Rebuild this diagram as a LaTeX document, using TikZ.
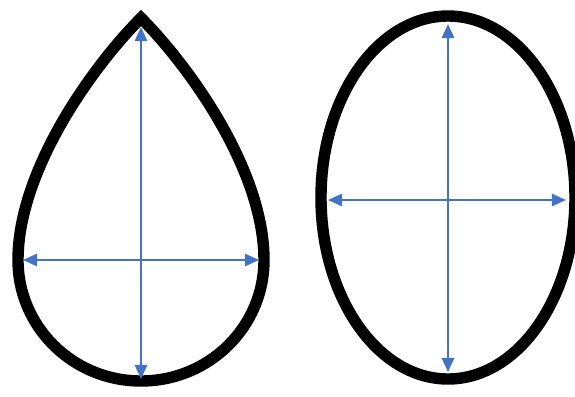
\documentclass[tikz,border=0pt]{standalone}
\usepackage{tikz}
\usetikzlibrary{arrows.meta}

\definecolor{axisblue}{RGB}{68,114,196}

\begin{document}
\begin{tikzpicture}[
    x=0.02cm, y=-0.02cm,
    >={Triangle[length=8pt, width=7pt]},
    outline/.style={draw=black, line width=6.5pt, line join=miter},
    axis/.style={<->, draw=axisblue, line width=1.2pt},
  ]
  \useasboundingbox (0,0) rectangle (575,396);

  %% ===== DROP (left) =====
  \draw[outline] (141,18) .. controls (93,66) and (18,170) .. (18,260)
    .. controls (18,327) and (73,381) .. (141,381)
    .. controls (209,381) and (264,327) .. (264,260)
    .. controls (264,170) and (189,66) .. (141,18) -- cycle;

  \coordinate (dropTop)    at (141,27);
  \coordinate (dropBottom) at (141,379);
  \coordinate (dropLeft)   at (23,260);
  \coordinate (dropRight)  at (259,260);

  \draw[axis] (dropTop) -- (dropBottom);
  \draw[axis] (dropLeft) -- (dropRight);

  %% ===== OVAL (right) =====
  \draw[outline] (448,197.5) ellipse [x radius=127, y radius=181.5];

  \coordinate (ovalTop)    at (448,24);
  \coordinate (ovalBottom) at (448,372);
  \coordinate (ovalLeft)   at (328,200);
  \coordinate (ovalRight)  at (566,200);

  \draw[axis] (ovalTop) -- (ovalBottom);
  \draw[axis] (ovalLeft) -- (ovalRight);

\end{tikzpicture}
\end{document}
